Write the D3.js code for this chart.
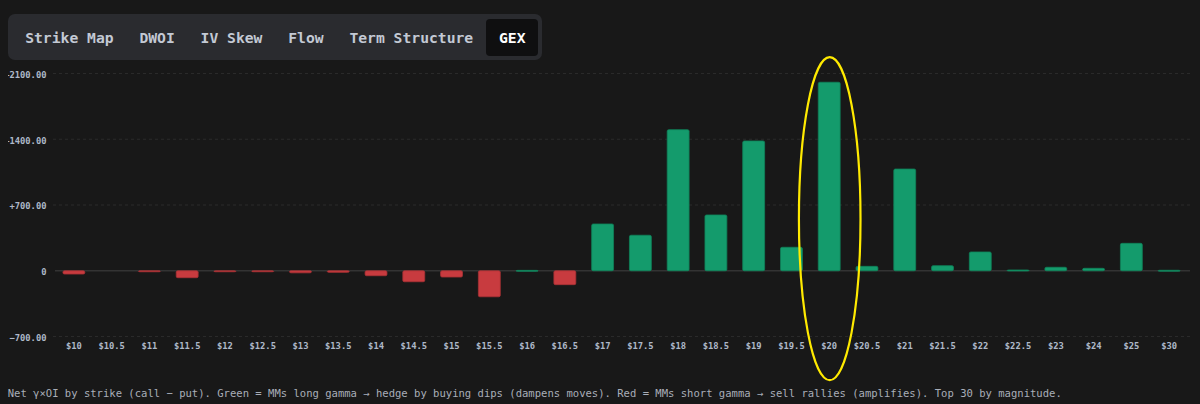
<!DOCTYPE html>
<html>
<head>
<meta charset="utf-8">
<script src="https://cdn.jsdelivr.net/npm/d3@7"></script>
<style>
  html, body { margin: 0; padding: 0; background: #181818; width: 1200px; height: 404px; overflow: hidden; }
  body { position: relative; font-family: "DejaVu Sans Mono", monospace; }
  #tabs { position: absolute; left: 8px; top: 14px; height: 46px; box-sizing: border-box; padding: 4.5px 4px 4.5px 4.3px;
          background: #2a2b2f; border-radius: 7px; display: flex; align-items: stretch; }
  .tab { padding: 0 12.9px; font-size: 14.7px; font-weight: bold; color: #c3c9d4; display: flex; align-items: center; border-radius: 4px; white-space: pre; }
  .tab.active { background: #0f0f10; color: #ffffff; }
  svg { position: absolute; left: 0; top: 0; }
</style>
</head>
<body>
<div id="tabs"></div>
<svg id="chart" width="1200" height="404"></svg>
<script>
const tabs = ["Strike Map", "DWOI", "IV Skew", "Flow", "Term Structure", "GEX"];
const activeTab = "GEX";
const strikes = ["$10","$10.5","$11","$11.5","$12","$12.5","$13","$13.5","$14","$14.5","$15","$15.5","$16","$16.5","$17","$17.5","$18","$18.5","$19","$19.5","$20","$20.5","$21","$21.5","$22","$22.5","$23","$24","$25","$30"];
const netGex = [-35, 0, -6, -74, -6, -6, -22, -17, -53, -117, -67, -277, 4, -148, 498, 378, 1502, 594, 1382, 250, 2007, 47, 1083, 54, 200, 8, 37, 26, 292, 5];
const yTicks = [-700, 0, 700, 1400, 2100];
const highlightStrike = "$20";
const footnote = "Net γ×OI by strike (call − put). Green = MMs long gamma → hedge by buying dips (dampens moves). Red = MMs short gamma → sell rallies (amplifies). Top 30 by magnitude.";

d3.select("#tabs").selectAll("div").data(tabs).join("div")
  .attr("class", d => "tab" + (d === activeTab ? " active" : ""))
  .text(d => d);

const svg = d3.select("#chart");
const data = strikes.map((s, i) => ({ s, v: netGex[i] }));

const x = d3.scaleBand().domain(strikes).range([55, 1188]).paddingInner(0.42).paddingOuter(0.21);
const y = d3.scaleLinear().domain([-700, 2100]).range([336.5, 73.5]);

const fmt = v => v === 0 ? "0" : (v > 0 ? "+" : "") + d3.format(".2f")(v);

svg.append("clipPath").attr("id", "clipL").append("rect").attr("x", 8).attr("y", 0).attr("width", 1192).attr("height", 404);

// grid
svg.append("g").selectAll("line").data(yTicks.filter(t => t !== 0)).join("line")
  .attr("x1", 53).attr("x2", 1190)
  .attr("y1", d => y(d)).attr("y2", d => y(d))
  .attr("stroke", "#2a2a2a").attr("stroke-width", 1).attr("stroke-dasharray", "3,3");

// y axis
const yWrap = svg.append("g").attr("clip-path", "url(#clipL)");
const yAxis = yWrap.append("g").attr("transform", "translate(46.5,1)")
  .call(d3.axisLeft(y).tickValues(yTicks).tickFormat(fmt).tickSize(0).tickPadding(0));
yAxis.select(".domain").remove();
yAxis.selectAll("text").attr("fill", "#aeb8c8").attr("font-size", "8.8px").attr("font-weight", "bold")
  .attr("font-family", "'DejaVu Sans Mono', monospace");

// zero line
svg.append("line").attr("x1", 55).attr("x2", 1190).attr("y1", y(0)).attr("y2", y(0))
  .attr("stroke", "#333333").attr("stroke-width", 1.5);

// bars
svg.append("g").selectAll("rect").data(data.filter(d => d.v !== 0)).join("rect")
  .attr("x", d => x(d.s))
  .attr("width", x.bandwidth())
  .attr("y", d => Math.min(y(d.v), y(0)))
  .attr("height", d => Math.max(1, Math.abs(y(d.v) - y(0))))
  .attr("rx", 1.5)
  .attr("fill", d => d.v >= 0 ? "#149b6c" : "#c83b3f")
  .attr("stroke", d => d.v >= 0 ? "#0f8259" : "#a83135")
  .attr("stroke-width", 0.8);

// x axis
const xAxis = svg.append("g").attr("transform", "translate(0,344.5)")
  .call(d3.axisBottom(x).tickSize(0).tickPadding(0));
xAxis.select(".domain").remove();
xAxis.selectAll("text").attr("fill", "#aeb8c8").attr("font-size", "8.8px").attr("font-weight", "bold")
  .attr("font-family", "'DejaVu Sans Mono', monospace").attr("dy", "0.5em");

// highlight ellipse
svg.append("ellipse")
  .attr("cx", x(highlightStrike) + x.bandwidth() / 2 + 0.5)
  .attr("cy", 218.7).attr("rx", 30.8).attr("ry", 161.5)
  .attr("fill", "none").attr("stroke", "#ffea00").attr("stroke-width", 2.2);

// footnote
svg.append("text").attr("x", 7.7).attr("y", 397.3).text(footnote)
  .attr("fill", "#a9aeb8").attr("font-size", "10.55px")
  .attr("font-family", "'DejaVu Sans Mono', monospace");
</script>
</body>
</html>
